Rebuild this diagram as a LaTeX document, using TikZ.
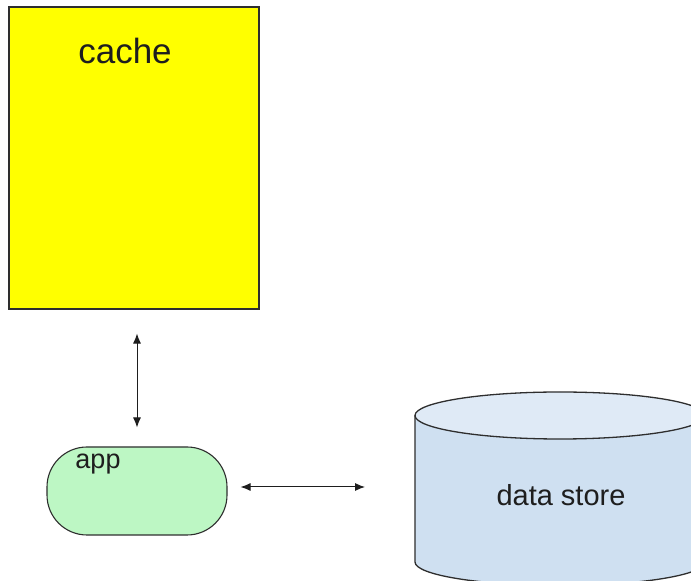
\documentclass[tikz,border=0pt]{standalone}
\usepackage{fontspec}
\setmainfont{Liberation Sans}
\usetikzlibrary{arrows.meta}
\definecolor{cacheyellow}{HTML}{FFFF00}
\definecolor{appgreen}{HTML}{BDF7C4}
\definecolor{storebody}{HTML}{CFE0F1}
\definecolor{storetop}{HTML}{DFEAF6}
\definecolor{edge}{HTML}{2E2E2E}
\definecolor{ink}{HTML}{1E1E1E}
\tikzset{
  cachebox/.style={draw=edge, line width=1.1pt, fill=cacheyellow, minimum width=250pt, minimum height=302pt, inner sep=0pt},
  appbox/.style={draw=edge, line width=1.1pt, fill=appgreen, rounded corners=40pt, minimum width=180pt, minimum height=88pt, inner sep=0pt},
  label/.style={text=ink, inner sep=0pt},
  link/.style={draw=ink, line width=1pt, {Latex[length=10pt,width=8pt]}-{Latex[length=10pt,width=8pt]}},
  storeline/.style={draw=edge, line width=1.3pt}
}
\begin{document}
\begin{tikzpicture}[x=1pt,y=1pt]
  \useasboundingbox (0,0) rectangle (691,581);
  \fill[white] (0,0) rectangle (691,581);

  % cache block
  \node[cachebox] (cache) at (134,423) {};
  \node[label, font=\fontsize{35}{38}\selectfont] (cachetxt) at (125,530) {cache};

  % application
  \node[appbox] (app) at (137,90) {};
  \node[label, font=\fontsize{27}{30}\selectfont] (apptxt) at (98,117) {app};

  % data store cylinder
  \fill[storebody] (415,165.5) -- (415,19)
    arc[start angle=180, end angle=360, x radius=145, y radius=23.5]
    -- (705,165.5)
    arc[start angle=0, end angle=180, x radius=145, y radius=23.5] -- cycle;
  \draw[storeline] (415,165.5) -- (415,19)
    arc[start angle=180, end angle=360, x radius=145, y radius=23.5]
    -- (705,165.5);
  \draw[storeline, fill=storetop] (560,165.5) ellipse[x radius=145, y radius=23.5];
  \node[label, font=\fontsize{29}{32}\selectfont] (store) at (561,86) {data store};

  % connectors
  \draw[link, shorten <=24pt, shorten >=19pt] (app.north |- cache.south) -- (app.north);
  \draw[link, shorten <=13pt, shorten >=50pt] ([yshift=4pt]app.east) -- ([yshift=4pt]app.east -| 415,0);
\end{tikzpicture}
\end{document}
